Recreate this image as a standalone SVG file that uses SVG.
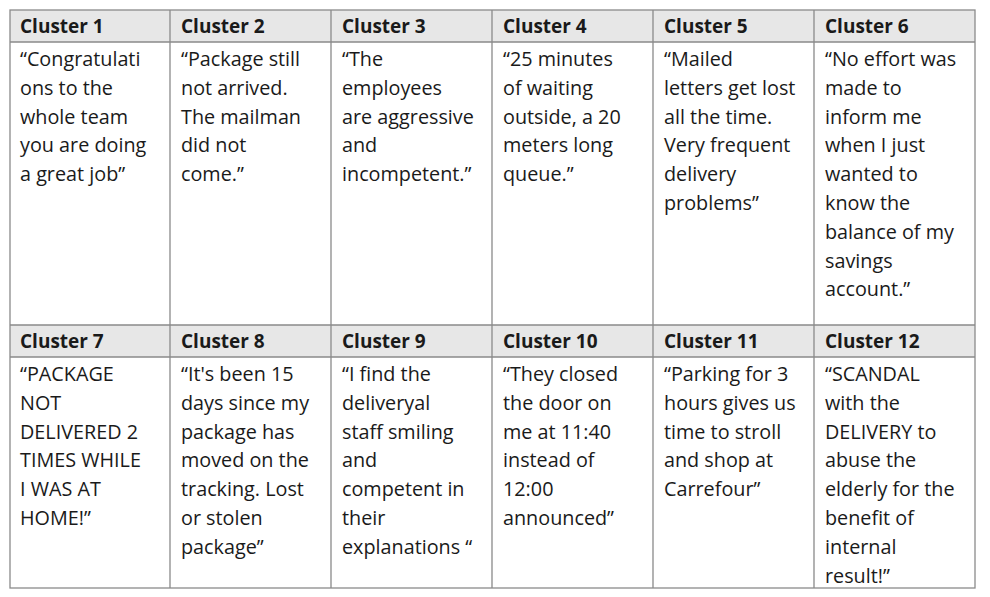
<svg xmlns="http://www.w3.org/2000/svg" width="990" height="597" viewBox="0 0 990 597">
<style>
.h{fill:#e7e7e7}
.g{stroke:#8a8a8a;stroke-width:1.3;fill:none}
text{font-family:"Open Sans","Liberation Sans",sans-serif;font-size:19.8px;fill:#1a1a1a}
.b{font-weight:bold;font-size:19px}
</style>
<rect width="990" height="597" fill="#fff"/>
<g id="headers">
<rect class="h" x="10" y="10" width="965" height="32"/>
<rect class="h" x="10" y="325" width="965" height="32"/>
</g>
<g id="grid">
<rect class="g" x="10" y="10" width="965" height="578"/>
<path class="g" d="M10 42H975M10 325H975M10 357H975M170 10V588M331 10V588M492 10V588M653 10V588M814 10V588"/>
</g>
<g id="row1">
<text class="b" x="20" y="33">Cluster 1</text>
<text class="b" x="181" y="33">Cluster 2</text>
<text class="b" x="342" y="33">Cluster 3</text>
<text class="b" x="503" y="33">Cluster 4</text>
<text class="b" x="664" y="33">Cluster 5</text>
<text class="b" x="825" y="33">Cluster 6</text>
<text x="20" y="66"><tspan x="20">“Congratulati</tspan><tspan x="20" dy="28.8">ons to the</tspan><tspan x="20" dy="28.8">whole team</tspan><tspan x="20" dy="28.8">you are doing</tspan><tspan x="20" dy="28.8">a great job”</tspan></text>
<text x="181" y="66"><tspan x="181">“Package still</tspan><tspan x="181" dy="28.8">not arrived.</tspan><tspan x="181" dy="28.8">The mailman</tspan><tspan x="181" dy="28.8">did not</tspan><tspan x="181" dy="28.8">come.”</tspan></text>
<text x="342" y="66"><tspan x="342">“The</tspan><tspan x="342" dy="28.8">employees</tspan><tspan x="342" dy="28.8">are aggressive</tspan><tspan x="342" dy="28.8">and</tspan><tspan x="342" dy="28.8">incompetent.”</tspan></text>
<text x="503" y="66"><tspan x="503">“25 minutes</tspan><tspan x="503" dy="28.8">of waiting</tspan><tspan x="503" dy="28.8">outside, a 20</tspan><tspan x="503" dy="28.8">meters long</tspan><tspan x="503" dy="28.8">queue.”</tspan></text>
<text x="664" y="66"><tspan x="664">“Mailed</tspan><tspan x="664" dy="28.8">letters get lost</tspan><tspan x="664" dy="28.8">all the time.</tspan><tspan x="664" dy="28.8">Very frequent</tspan><tspan x="664" dy="28.8">delivery</tspan><tspan x="664" dy="28.8">problems”</tspan></text>
<text x="825" y="66"><tspan x="825">“No effort was</tspan><tspan x="825" dy="28.8">made to</tspan><tspan x="825" dy="28.8">inform me</tspan><tspan x="825" dy="28.8">when I just</tspan><tspan x="825" dy="28.8">wanted to</tspan><tspan x="825" dy="28.8">know the</tspan><tspan x="825" dy="28.8">balance of my</tspan><tspan x="825" dy="28.8">savings</tspan><tspan x="825" dy="28.8">account.”</tspan></text>
</g>
<g id="row2">
<text class="b" x="20" y="348">Cluster 7</text>
<text class="b" x="181" y="348">Cluster 8</text>
<text class="b" x="342" y="348">Cluster 9</text>
<text class="b" x="503" y="348">Cluster 10</text>
<text class="b" x="664" y="348">Cluster 11</text>
<text class="b" x="825" y="348">Cluster 12</text>
<text x="20" y="381"><tspan x="20">“PACKAGE</tspan><tspan x="20" dy="28.8">NOT</tspan><tspan x="20" dy="28.8">DELIVERED 2</tspan><tspan x="20" dy="28.8">TIMES WHILE</tspan><tspan x="20" dy="28.8">I WAS AT</tspan><tspan x="20" dy="28.8">HOME!”</tspan></text>
<text x="181" y="381"><tspan x="181">“It's been 15</tspan><tspan x="181" dy="28.8">days since my</tspan><tspan x="181" dy="28.8">package has</tspan><tspan x="181" dy="28.8">moved on the</tspan><tspan x="181" dy="28.8">tracking. Lost</tspan><tspan x="181" dy="28.8">or stolen</tspan><tspan x="181" dy="28.8">package”</tspan></text>
<text x="342" y="381"><tspan x="342">“I find the</tspan><tspan x="342" dy="28.8">deliveryal</tspan><tspan x="342" dy="28.8">staff smiling</tspan><tspan x="342" dy="28.8">and</tspan><tspan x="342" dy="28.8">competent in</tspan><tspan x="342" dy="28.8">their</tspan><tspan x="342" dy="28.8">explanations “</tspan></text>
<text x="503" y="381"><tspan x="503">“They closed</tspan><tspan x="503" dy="28.8">the door on</tspan><tspan x="503" dy="28.8">me at 11:40</tspan><tspan x="503" dy="28.8">instead of</tspan><tspan x="503" dy="28.8">12:00</tspan><tspan x="503" dy="28.8">announced”</tspan></text>
<text x="664" y="381"><tspan x="664">“Parking for 3</tspan><tspan x="664" dy="28.8">hours gives us</tspan><tspan x="664" dy="28.8">time to stroll</tspan><tspan x="664" dy="28.8">and shop at</tspan><tspan x="664" dy="28.8">Carrefour”</tspan></text>
<text x="825" y="381"><tspan x="825">“SCANDAL</tspan><tspan x="825" dy="28.8">with the</tspan><tspan x="825" dy="28.8">DELIVERY to</tspan><tspan x="825" dy="28.8">abuse the</tspan><tspan x="825" dy="28.8">elderly for the</tspan><tspan x="825" dy="28.8">benefit of</tspan><tspan x="825" dy="28.8">internal</tspan><tspan x="825" dy="28.8">result!”</tspan></text>
</g>
</svg>
